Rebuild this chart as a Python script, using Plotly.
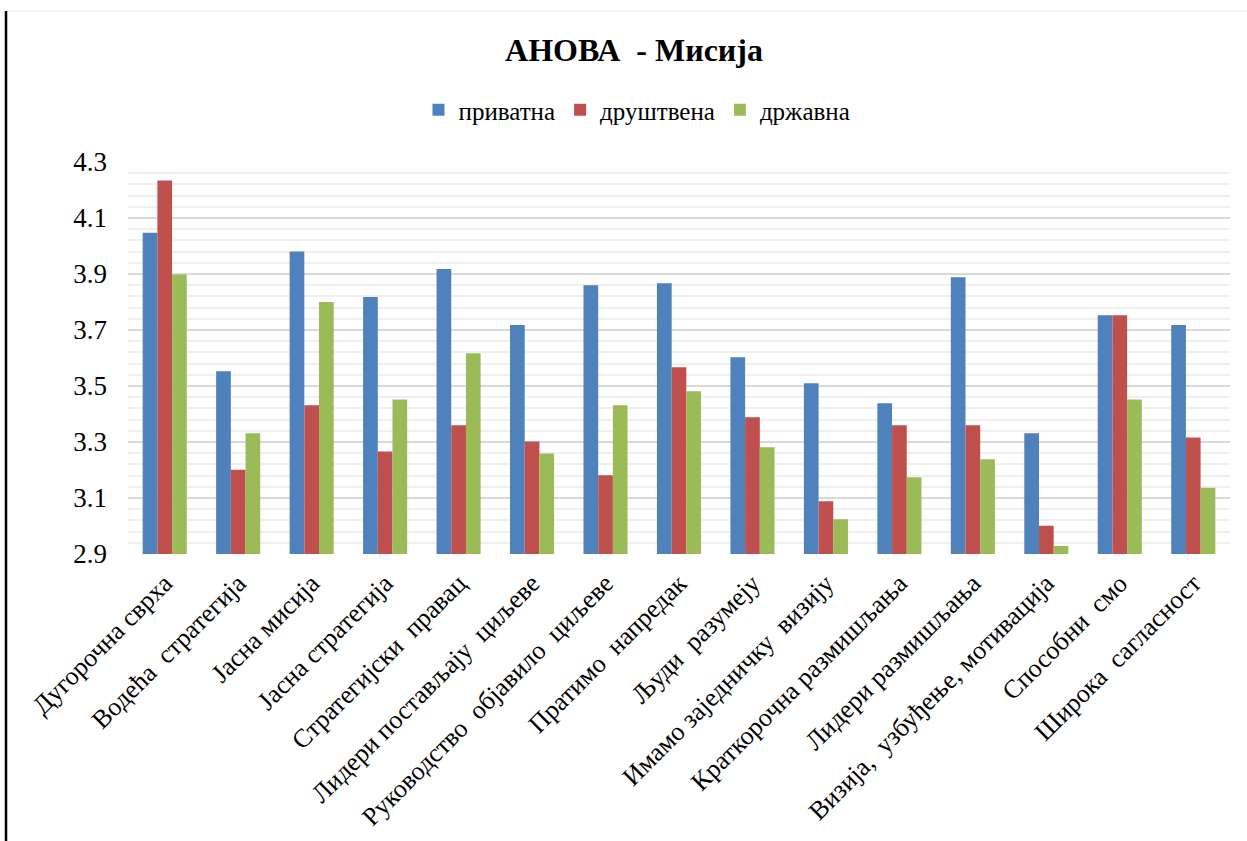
import plotly.graph_objects as go

categories = [
    "Дугорочна сврха", "Водећа  стратегија", "Јасна мисија", "Јасна стратегија",
    "Стратегијски  правац", "Лидери постављају  циљеве", "Руководство  објавило  циљеве",
    "Пратимо  напредак", "Људи  разумеју", "Имамо заједничку  визију",
    "Краткорочна размишљања", "Лидери размишљања", "Визија,  узбуђење, мотивација",
    "Способни  смо", "Широка  сагласност",
]
privatna = [4.047, 3.553, 3.980, 3.818, 3.918, 3.718, 3.860, 3.867, 3.603, 3.510, 3.438, 3.888, 3.331, 3.753, 3.718]
drustvena = [4.234, 3.201, 3.431, 3.266, 3.360, 3.302, 3.181, 3.567, 3.388, 3.088, 3.360, 3.360, 3.001, 3.753, 3.316]
drzavna = [3.898, 3.331, 3.800, 3.452, 3.617, 3.259, 3.431, 3.481, 3.281, 3.024, 3.174, 3.238, 2.929, 3.452, 3.137]
series_names = ["приватна", "друштвена", "државна"]
colors = ["#4F81BD", "#C0504D", "#9BBB59"]
y_ticks = [2.9, 3.1, 3.3, 3.5, 3.7, 3.9, 4.1, 4.3]

FONT = "Liberation Serif"

fig = go.Figure()
for name, vals, c in zip(series_names, [privatna, drustvena, drzavna], colors):
    fig.add_trace(go.Bar(x=categories, y=vals, name=name, marker=dict(color=c, line=dict(width=0))))

W, H = 1247, 841
ml, mr, mt, mb = 128, 17, 162, 287
pw, ph = W - ml - mr, H - mt - mb

fig.update_layout(
    width=W, height=H,
    margin=dict(l=ml, r=mr, t=mt, b=mb, autoexpand=False),
    paper_bgcolor="white", plot_bgcolor="white",
    barmode="group", bargap=0.4, bargroupgap=0,
    font=dict(family=FONT, color="#000000"),
    title=dict(text="<b>АНОВА  - Мисија</b>", x=634 / W, xref="container",
               xanchor="center", y=1 - 50 / H, yanchor="middle",
               font=dict(family=FONT, size=32, color="#000000")),
    legend=dict(orientation="h", x=637 / W, xref="container", xanchor="center",
                y=1 - 110 / H, yref="container", yanchor="middle",
                font=dict(family=FONT, size=25, color="#000000"),
                itemwidth=30, traceorder="normal", bgcolor="rgba(0,0,0,0)"),
    showlegend=True,
)
fig.update_xaxes(
    type="category", tickangle=-45, tickfont=dict(family=FONT, size=26, color="#000000"),
    showgrid=False, showline=False, ticks="", zeroline=False, ticklabelstandoff=8,
)
fig.update_yaxes(
    range=[2.9, 4.3], tickvals=y_ticks, ticktext=[f"{v:.1f}" for v in y_ticks],
    tickfont=dict(family=FONT, size=27, color="#000000"),
    showgrid=True, gridcolor="#D9D9D9", gridwidth=1.5,
    minor=dict(dtick=0.04, tick0=2.9, showgrid=True, gridcolor="#F0F0F0", gridwidth=1.5),
    showline=False, zeroline=False, ticks="", ticklabelstandoff=20,
)
# picture border: left dark line, faint top line
fig.add_shape(type="line", xref="paper", yref="paper",
              x0=(6 - ml) / pw, x1=(6 - ml) / pw,
              y0=-mb / ph, y1=(H - mb - 11) / ph,
              line=dict(color="#000000", width=2.5), layer="above")
fig.add_shape(type="line", xref="paper", yref="paper",
              x0=(7 - ml) / pw, x1=(W - ml) / pw,
              y0=(H - mb - 11) / ph, y1=(H - mb - 11) / ph,
              line=dict(color="#EBEBEB", width=1), layer="above")

fig.write_html("out.html")
